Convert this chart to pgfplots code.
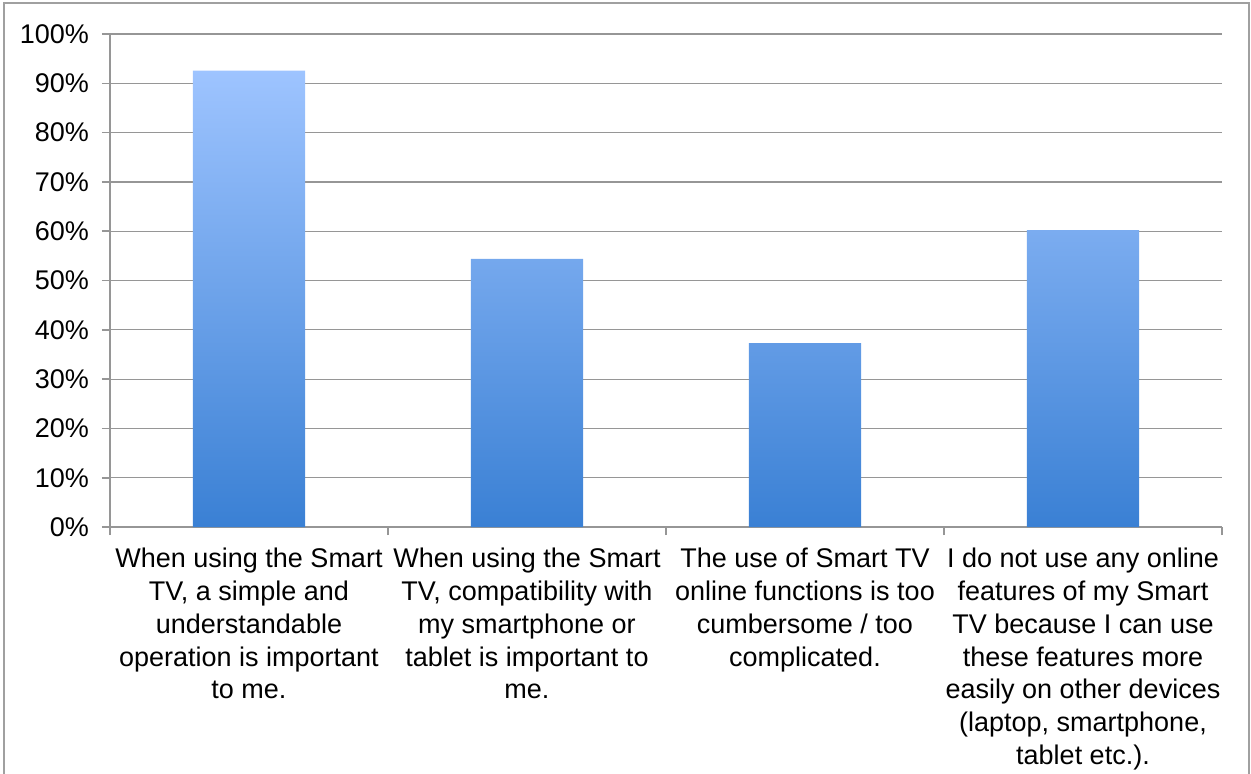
\documentclass[border=0pt]{standalone}
\usepackage{fontspec}
\setmainfont{Liberation Sans}
\usepackage{pgfplots}
\pgfplotsset{compat=1.18}
\definecolor{gridc}{RGB}{150,150,150}
\definecolor{framec}{RGB}{160,160,160}
\definecolor{bartop}{RGB}{158,196,255}
\definecolor{barbot}{RGB}{58,128,212}
\begin{document}
\begin{tikzpicture}
\begin{axis}[
  scale only axis, width=556pt, height=246.5pt,
  xmin=0, xmax=4, ymin=0, ymax=100,
  axis lines=left, axis line style={-, gridc, line width=0.8pt},
  tick align=outside, major tick length=4pt,
  tick style={gridc, line width=0.8pt},
  ytick={0,10,...,100},
  yticklabel={\pgfmathprintnumber{\tick}\%},
  /pgf/number format/assume math mode=true,
  ymajorgrids, grid style={gridc, line width=0.6pt},
  xtick={0,1,2,3,4},
  x tick label as interval,
  xticklabels={
    {When using the Smart\\TV, a simple and\\understandable\\operation is important\\to me.},
    {When using the Smart\\TV, compatibility with\\my smartphone or\\tablet is important to\\me.},
    {The use of Smart TV\\online functions is too\\cumbersome / too\\complicated.},
    {I do not use any online\\features of my Smart\\TV because I can use\\these features more\\easily on other devices\\(laptop, smartphone,\\tablet etc.).}
  },
  xticklabel style={align=center, font=\fontsize{13.5}{16.4}\selectfont, yshift=-3pt},
  yticklabel style={font=\fontsize{13.5}{16.4}\selectfont, xshift=-3pt},
  clip=false,
]
\addplot[ybar, bar width=0.403, draw=none, top color=bartop, bottom color=barbot]
  coordinates {(0.5,92.6) (1.5,54.4) (2.5,37.3) (3.5,60.2)};
\draw[framec, line width=0.9pt] (rel axis cs:-0.0953,-0.52) -- (rel axis cs:-0.0953,1.0629) -- (rel axis cs:1.0243,1.0629) -- (rel axis cs:1.0243,-0.52);
\coordinate (bl) at (rel axis cs:-0.0989,-0.499);
\coordinate (tr) at (rel axis cs:1.0261,1.069);
\end{axis}
\pgfresetboundingbox
\path (bl) rectangle (tr);
\end{tikzpicture}
\end{document}
